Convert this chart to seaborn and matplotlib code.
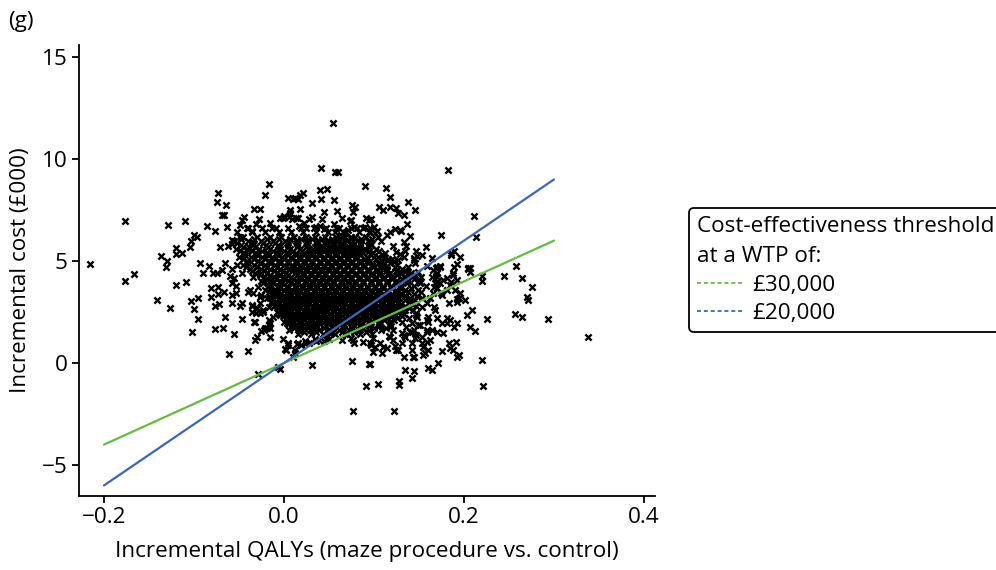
import matplotlib
matplotlib.use("Agg")
import matplotlib.pyplot as plt
from matplotlib.lines import Line2D
import pandas as pd
import seaborn as sns

# ---------------------------------------------------------------------------
# Bootstrap replicates: incremental QALYs vs incremental cost (GBP 000)
# Dense centre of the cloud, listed row by row (cost level -> QALY values)
# ---------------------------------------------------------------------------
core_rows = {
    6.6: [-0.041, -0.024, -0.009, 0.004, 0.019, 0.033, 0.047, 0.061, 0.075, 0.088],
    6.4: [-0.052, -0.035, -0.021, -0.006, 0.008, 0.021, 0.036, 0.049, 0.057, 0.069, 0.083, 0.094],
    6.2: [-0.045, -0.030, -0.016, -0.003, 0.011, 0.024, 0.035, 0.046, 0.058, 0.068, 0.079, 0.091, 0.104],
    6.1: [-0.048, -0.033, -0.019, -0.005, 0.007, 0.019, 0.031, 0.042, 0.053, 0.064, 0.075, 0.086, 0.098],
    6.0: [-0.055, -0.040, -0.026, -0.012, 0.001, 0.013, 0.026, 0.037, 0.048, 0.059, 0.070, 0.081, 0.093, 0.108],
    5.9: [-0.052, -0.037, -0.023, -0.010, 0.003, 0.015, 0.026, 0.036, 0.045, 0.055, 0.065, 0.075, 0.085, 0.096],
    5.8: [-0.048, -0.034, -0.020, -0.007, 0.005, 0.016, 0.027, 0.037, 0.047, 0.056, 0.066, 0.076, 0.086, 0.097],
    5.7: [-0.046, -0.032, -0.018, -0.006, 0.005, 0.015, 0.025, 0.034, 0.043, 0.052, 0.062, 0.072, 0.082, 0.094],
    5.6: [-0.053, -0.041, -0.028, -0.016, -0.004, 0.007, 0.018, 0.028, 0.038, 0.047, 0.057, 0.067, 0.077, 0.089, 0.102],
    5.5: [-0.049, -0.036, -0.024, -0.012, 0.000, 0.010, 0.020, 0.029, 0.037, 0.045, 0.054, 0.063, 0.073, 0.083, 0.094, 0.106],
    5.4: [-0.044, -0.031, -0.019, -0.008, 0.003, 0.013, 0.022, 0.031, 0.040, 0.049, 0.058, 0.068, 0.078, 0.088, 0.099, 0.112],
    5.3: [-0.043, -0.030, -0.018, -0.007, 0.004, 0.013, 0.022, 0.030, 0.039, 0.048, 0.057, 0.066, 0.075, 0.085, 0.097, 0.109],
    5.2: [-0.050, -0.037, -0.024, -0.013, -0.002, 0.008, 0.017, 0.026, 0.035, 0.044, 0.053, 0.062, 0.071, 0.081, 0.092, 0.104],
    5.1: [-0.046, -0.033, -0.021, -0.010, 0.000, 0.009, 0.018, 0.027, 0.036, 0.045, 0.053, 0.062, 0.071, 0.080, 0.090, 0.102, 0.116],
    5.0: [-0.041, -0.029, -0.017, -0.006, 0.004, 0.013, 0.022, 0.031, 0.040, 0.049, 0.058, 0.067, 0.076, 0.085, 0.096, 0.109, 0.122],
    4.9: [-0.040, -0.027, -0.015, -0.004, 0.005, 0.014, 0.023, 0.031, 0.040, 0.048, 0.057, 0.066, 0.075, 0.084, 0.093, 0.104, 0.118],
    4.8: [-0.046, -0.033, -0.021, -0.010, 0.000, 0.009, 0.018, 0.027, 0.036, 0.044, 0.052, 0.061, 0.070, 0.079, 0.088, 0.098, 0.110, 0.126],
    4.7: [-0.042, -0.030, -0.019, -0.008, 0.002, 0.011, 0.020, 0.029, 0.037, 0.045, 0.053, 0.062, 0.071, 0.080, 0.089, 0.099, 0.110, 0.123, 0.138],
    4.6: [-0.038, -0.026, -0.015, -0.004, 0.006, 0.015, 0.024, 0.033, 0.041, 0.049, 0.057, 0.066, 0.075, 0.084, 0.093, 0.103, 0.115, 0.131],
    4.5: [-0.035, -0.022, -0.011, -0.001, 0.009, 0.018, 0.026, 0.034, 0.042, 0.050, 0.058, 0.067, 0.076, 0.085, 0.094, 0.103, 0.113, 0.124, 0.136],
    4.4: [-0.032, -0.019, -0.008, 0.002, 0.012, 0.021, 0.030, 0.038, 0.046, 0.054, 0.062, 0.071, 0.080, 0.089, 0.098, 0.107, 0.118, 0.130, 0.141],
    4.3: [-0.027, -0.015, -0.004, 0.005, 0.014, 0.022, 0.030, 0.038, 0.046, 0.054, 0.062, 0.070, 0.079, 0.088, 0.097, 0.106, 0.116, 0.126, 0.139],
    4.2: [-0.022, -0.011, -0.001, 0.008, 0.017, 0.026, 0.034, 0.042, 0.050, 0.058, 0.066, 0.075, 0.084, 0.093, 0.102, 0.111, 0.121, 0.133, 0.152],
    4.1: [-0.020, -0.009, 0.001, 0.010, 0.019, 0.027, 0.035, 0.043, 0.051, 0.059, 0.067, 0.075, 0.083, 0.092, 0.101, 0.110, 0.120, 0.131, 0.144],
    4.0: [-0.026, -0.015, -0.004, 0.005, 0.014, 0.023, 0.031, 0.039, 0.047, 0.055, 0.063, 0.071, 0.079, 0.088, 0.097, 0.106, 0.115, 0.125, 0.138, 0.150],
    3.9: [-0.023, -0.012, -0.002, 0.008, 0.016, 0.024, 0.032, 0.040, 0.048, 0.056, 0.064, 0.072, 0.080, 0.088, 0.097, 0.105, 0.115, 0.125, 0.137, 0.151],
    3.8: [-0.018, -0.007, 0.003, 0.012, 0.020, 0.028, 0.036, 0.044, 0.052, 0.060, 0.068, 0.076, 0.084, 0.092, 0.101, 0.110, 0.119, 0.130, 0.144, 0.158],
    3.7: [-0.015, -0.004, 0.005, 0.013, 0.021, 0.029, 0.037, 0.045, 0.053, 0.061, 0.069, 0.077, 0.085, 0.093, 0.101, 0.110, 0.119, 0.129, 0.141],
    3.6: [-0.021, -0.010, 0.000, 0.009, 0.017, 0.025, 0.033, 0.041, 0.049, 0.057, 0.065, 0.073, 0.081, 0.089, 0.097, 0.105, 0.114, 0.124, 0.135, 0.149],
    3.5: [-0.017, -0.007, 0.003, 0.011, 0.018, 0.026, 0.034, 0.042, 0.050, 0.058, 0.066, 0.074, 0.082, 0.090, 0.098, 0.107, 0.116, 0.126, 0.138, 0.152],
    3.4: [-0.013, -0.003, 0.006, 0.014, 0.022, 0.030, 0.038, 0.046, 0.054, 0.062, 0.070, 0.078, 0.086, 0.094, 0.102, 0.111, 0.120, 0.131, 0.145],
    3.3: [-0.010, 0.000, 0.008, 0.016, 0.024, 0.032, 0.040, 0.048, 0.056, 0.064, 0.072, 0.080, 0.088, 0.096, 0.105, 0.114, 0.124, 0.135, 0.148],
    3.2: [-0.016, -0.006, 0.003, 0.012, 0.020, 0.028, 0.036, 0.044, 0.052, 0.060, 0.068, 0.076, 0.084, 0.092, 0.100, 0.109, 0.118, 0.128, 0.140, 0.153],
    3.1: [-0.012, -0.002, 0.007, 0.015, 0.023, 0.031, 0.039, 0.047, 0.055, 0.063, 0.071, 0.079, 0.087, 0.095, 0.104, 0.113, 0.123, 0.134, 0.146],
    3.0: [-0.009, 0.001, 0.010, 0.018, 0.026, 0.034, 0.042, 0.050, 0.058, 0.066, 0.074, 0.082, 0.090, 0.099, 0.108, 0.117, 0.127, 0.139],
    2.9: [-0.006, 0.004, 0.012, 0.020, 0.028, 0.036, 0.044, 0.052, 0.060, 0.068, 0.076, 0.084, 0.092, 0.101, 0.110, 0.120, 0.130, 0.142],
    2.8: [-0.011, -0.001, 0.008, 0.016, 0.024, 0.032, 0.040, 0.048, 0.056, 0.064, 0.072, 0.080, 0.088, 0.096, 0.105, 0.114, 0.124, 0.135, 0.147],
    2.7: [-0.007, 0.002, 0.010, 0.018, 0.026, 0.034, 0.042, 0.050, 0.058, 0.066, 0.074, 0.083, 0.091, 0.100, 0.109, 0.118, 0.129, 0.139],
    2.6: [-0.003, 0.006, 0.014, 0.022, 0.030, 0.038, 0.046, 0.054, 0.062, 0.070, 0.078, 0.087, 0.095, 0.104, 0.113, 0.123, 0.134, 0.143],
    2.5: [0.000, 0.008, 0.016, 0.024, 0.032, 0.040, 0.048, 0.056, 0.064, 0.072, 0.081, 0.089, 0.098, 0.108, 0.117, 0.128],
    2.4: [-0.005, 0.004, 0.012, 0.020, 0.028, 0.036, 0.044, 0.052, 0.060, 0.068, 0.077, 0.085, 0.094, 0.103, 0.112, 0.122, 0.133],
    2.3: [-0.001, 0.007, 0.015, 0.023, 0.031, 0.040, 0.048, 0.056, 0.064, 0.072, 0.081, 0.090, 0.099, 0.109, 0.120, 0.131],
    2.2: [0.002, 0.010, 0.018, 0.026, 0.035, 0.043, 0.051, 0.059, 0.068, 0.076, 0.085, 0.094, 0.104, 0.115, 0.126, 0.139],
    2.1: [0.005, 0.013, 0.022, 0.030, 0.039, 0.047, 0.056, 0.064, 0.073, 0.082, 0.091, 0.101, 0.111, 0.122],
    2.0: [0.000, 0.009, 0.017, 0.026, 0.034, 0.043, 0.052, 0.061, 0.069, 0.078, 0.087, 0.097, 0.107, 0.118, 0.131],
    1.9: [0.004, 0.013, 0.022, 0.031, 0.040, 0.049, 0.058, 0.067, 0.076, 0.086, 0.096, 0.107, 0.118],
    1.8: [0.008, 0.018, 0.028, 0.037, 0.047, 0.056, 0.066, 0.075, 0.085, 0.095, 0.106, 0.119],
    1.7: [0.011, 0.022, 0.033, 0.044, 0.055, 0.066, 0.077, 0.088, 0.100, 0.113],
    1.6: [0.006, 0.017, 0.029, 0.039, 0.050, 0.061, 0.072, 0.083, 0.094, 0.108, 0.121],
    1.5: [0.022, 0.036, 0.050, 0.064, 0.078, 0.091],
    1.4: [0.016, 0.030, 0.043, 0.057, 0.070, 0.084, 0.098],
}

# Scattered replicates around the centre: (incremental QALY, incremental cost)
outer_points = [
    (-0.216, 4.85), (-0.177, 6.96), (-0.177, 4.00), (-0.167, 4.35), (-0.141, 3.07), (-0.129, 6.75),
    (-0.127, 2.68), (-0.137, 5.23), (-0.130, 4.98), (-0.131, 4.69), (-0.120, 5.65), (-0.120, 5.34),
    (-0.113, 5.41), (-0.120, 3.82), (-0.109, 3.99), (-0.110, 6.96), (-0.103, 6.00), (-0.104, 5.70),
    (-0.100, 6.29), (-0.097, 6.18), (-0.103, 3.04), (-0.096, 3.17), (-0.100, 2.63), (-0.096, 2.14),
    (-0.102, 1.53), (-0.093, 4.89), (-0.083, 4.75), (-0.090, 4.40), (-0.079, 4.40), (-0.074, 4.43),
    (-0.069, 4.56), (-0.065, 4.92), (-0.086, 6.73), (-0.077, 6.49), (-0.073, 8.33), (-0.074, 7.89),
    (-0.064, 7.73), (-0.069, 7.25), (-0.067, 7.25), (-0.063, 6.68), (-0.071, 5.70), (-0.062, 5.74),
    (-0.058, 5.82), (-0.058, 6.03), (-0.049, 6.19), (-0.049, 6.76), (-0.047, 7.01), (-0.044, 7.14),
    (-0.033, 7.56), (-0.027, 7.56), (-0.021, 8.24), (-0.017, 8.76), (-0.040, 6.63), (-0.036, 6.47),
    (-0.034, 5.87), (-0.039, 5.70), (-0.028, 7.04), (-0.031, 6.81), (-0.016, 6.88), (-0.013, 6.60),
    (-0.004, 7.09), (-0.001, 7.12), (0.007, 7.50), (0.006, 7.17), (0.009, 7.04), (0.005, 8.10),
    (0.010, 8.05), (0.016, 8.05), (0.021, 8.35), (0.018, 8.24),
    (-0.081, 3.66), (-0.081, 3.22), (-0.073, 3.71), (-0.067, 3.50), (-0.073, 3.38), (-0.077, 2.79),
    (-0.072, 2.88), (-0.066, 2.24), (-0.047, 2.16), (-0.077, 1.67), (-0.068, 1.72), (-0.056, 1.42),
    (-0.058, 2.96), (-0.049, 2.81), (-0.061, 0.46), (-0.040, 0.60), (-0.029, -0.56), (-0.007, -0.18),
    (-0.004, -0.29), (-0.032, 1.13), (-0.030, 1.29), (-0.025, 1.57), (-0.021, 1.70), (-0.016, 1.29),
    (-0.017, 1.86), (-0.001, 1.16), (0.002, 0.64), (0.010, 0.31), (0.012, 0.64), (0.005, 0.97),
    (0.016, 0.97), (-0.047, 2.92), (-0.036, 2.81), (-0.031, 2.43), (-0.032, 2.03), (-0.058, 3.90),
    (-0.053, 3.77), (-0.053, 3.42), (-0.058, 3.33), (-0.038, 3.58), (-0.029, 3.74), (-0.034, 3.42),
    (-0.027, 3.25), (-0.023, 2.60), (-0.017, 2.11), (-0.016, 1.70), (-0.012, 2.27), (-0.008, 2.51),
    (-0.004, 2.35), (0.003, 1.95), (-0.060, 4.26), (-0.056, 4.15), (-0.040, 3.50), (-0.025, 3.33),
    (-0.019, 3.17), (-0.014, 3.58), (-0.008, 3.33), (-0.003, 3.09), (-0.034, 4.23), (-0.025, 4.39),
    (-0.019, 4.07), (-0.014, 4.15), (-0.006, 4.31), (-0.035, 2.51), (-0.030, 2.68), (-0.027, 2.43),
    (-0.023, 2.51), (-0.036, 2.84), (-0.027, 2.92), (-0.017, 2.76), (-0.014, 3.00), (-0.009, 2.84),
    (-0.033, 2.00), (-0.016, 1.95), (-0.019, 1.70), (-0.022, 1.62), (-0.058, 4.60), (-0.052, 4.80),
    (-0.047, 4.40), (0.031, -0.10), (0.015, 0.95), (0.019, 0.90), (0.024, 1.00), (0.028, 1.00),
    (0.036, 1.10), (0.039, 1.15), (0.045, 1.10), (0.047, 1.20), (0.001, 0.67), (0.005, 0.88),
    (0.012, 0.48), (0.023, 1.10), (0.034, 1.20), (0.050, 1.20), (0.052, 1.45),
    (0.054, 11.78), (0.041, 9.56), (0.057, 9.38), (0.060, 9.38), (0.182, 9.48), (0.090, 8.68),
    (0.113, 8.59), (0.118, 8.14), (0.012, 8.07), (0.040, 8.48), (0.048, 8.53), (0.041, 8.02),
    (0.031, 7.83), (0.056, 7.97), (0.138, 7.88), (0.146, 7.50), (0.118, 7.63), (0.124, 7.61),
    (0.127, 7.35), (0.133, 7.24), (0.106, 7.66), (0.110, 7.50), (0.076, 7.75), (0.079, 7.63),
    (0.077, 7.39), (0.007, 7.34), (0.018, 7.55), (0.045, 7.39), (0.059, 7.44), (0.064, 7.12),
    (0.000, 7.20), (0.013, 7.10), (0.016, 7.12), (0.031, 7.17), (0.028, 7.04), (0.042, 7.06),
    (0.074, 7.01), (0.091, 7.09), (0.097, 7.06), (0.094, 7.01), (0.017, 6.72), (0.022, 6.88),
    (0.025, 6.60), (0.036, 6.68), (0.040, 6.72), (0.045, 6.55), (0.056, 6.80), (0.058, 6.60),
    (0.063, 6.30), (0.066, 6.40), (0.071, 6.50), (0.078, 6.65), (0.074, 6.20), (0.090, 6.68),
    (0.096, 6.60), (0.100, 6.68), (0.103, 6.49), (0.101, 6.36), (0.096, 6.44), (0.114, 6.27),
    (0.118, 6.44), (0.123, 6.55), (0.129, 6.52), (0.137, 6.81), (0.140, 6.24), (0.133, 5.95),
    (0.136, 5.75), (0.134, 5.50), (0.121, 5.75), (0.125, 5.46), (0.129, 5.33), (0.133, 5.21),
    (0.158, 5.69), (0.153, 5.29), (0.148, 5.25), (0.146, 4.89), (0.144, 5.05), (0.164, 5.13),
    (0.169, 4.64), (0.173, 4.77), (0.170, 4.40), (0.174, 6.29), (0.186, 5.41), (0.189, 5.50),
    (0.186, 5.28), (0.196, 5.18), (0.192, 4.85), (0.189, 4.72), (0.204, 4.61), (0.211, 7.20),
    (0.213, 6.19), (0.220, 4.28), (0.159, 4.77), (0.166, 4.56), (0.164, 4.23), (0.188, 4.31),
    (0.146, 4.31), (0.149, 4.48), (0.073, 6.98), (0.081, 6.63), (0.130, 6.49), (0.147, 5.50),
    (0.144, 5.13), (0.127, 5.05), (0.110, 5.13), (0.116, 5.05), (0.120, 5.10), (0.114, 4.75),
    (0.107, 4.89), (0.170, 4.69), (0.205, 4.67),
    (0.207, 4.64), (0.220, 4.03), (0.244, 4.26), (0.258, 4.74), (0.264, 4.15), (0.276, 3.74),
    (0.270, 3.25), (0.271, 3.09), (0.226, 2.14), (0.207, 1.78), (0.212, 1.58), (0.257, 2.40),
    (0.264, 2.27), (0.293, 2.14), (0.338, 1.26), (0.220, 0.16), (0.221, -1.13), (0.188, 4.39),
    (0.186, 3.99), (0.192, 4.07), (0.173, 4.72), (0.169, 4.26), (0.170, 3.99), (0.167, 3.74),
    (0.181, 3.58), (0.176, 3.33), (0.196, 3.45), (0.192, 3.12), (0.183, 2.93), (0.192, 3.00),
    (0.167, 2.76), (0.168, 2.60), (0.181, 2.19), (0.184, 2.11), (0.176, 1.98), (0.170, 1.53),
    (0.189, 1.78), (0.191, 1.04), (0.184, 0.72), (0.188, 0.64), (0.192, 0.31), (0.176, 0.60),
    (0.171, -0.02), (0.160, -0.26), (0.159, 2.11), (0.159, 1.62), (0.162, 1.13), (0.155, 0.80),
    (0.157, 0.48), (0.153, 1.29), (0.147, 2.35), (0.149, 1.86), (0.144, 1.62), (0.146, 1.21),
    (0.142, 0.97), (0.143, 0.28), (0.144, -0.38), (0.142, -0.75), (0.134, -0.34), (0.128, -0.87),
    (0.128, -1.08), (0.133, 0.31), (0.125, 0.64), (0.105, -1.04), (0.091, -1.13), (0.077, -2.34),
    (0.122, -2.34), (0.095, -0.06), (0.076, 0.11), (0.110, 0.77), (0.123, 0.83), (0.127, 0.64),
    (0.118, 1.29), (0.107, 0.99), (0.121, 1.12), (0.133, 1.37), (0.140, 1.53), (0.136, 1.78),
    (0.099, 1.21), (0.097, 0.88), (0.088, 1.04), (0.078, 0.99), (0.075, 1.21), (0.068, 1.42),
    (0.065, 1.13), (0.170, 4.23), (0.207, 4.48), (0.184, 3.82), (0.168, 3.90), (0.175, 3.42),
    (0.190, 3.58), (0.194, 3.17), (0.201, 3.09), (0.209, 2.60), (0.203, 2.35), (0.160, 2.27),
    (0.170, 2.19), (0.160, 2.03), (0.164, 1.62), (0.159, 1.53), (0.177, 1.45), (0.181, 1.95),
    (0.192, 1.95), (0.194, 0.39), (0.183, 0.97), (0.159, 1.04), (0.153, 0.97), (0.160, 0.64),
    (0.155, 0.39), (0.144, 0.31), (0.142, 0.64), (0.131, 0.97), (0.114, 0.72), (0.109, 0.48),
    (0.099, 0.55), (0.101, 0.80), (0.096, 0.97), (0.077, 1.13), (0.096, -0.06), (0.117, 1.31),
    (0.131, 1.45), (0.142, 1.53), (0.134, 1.29), (0.147, 1.37), (0.142, 1.95), (0.148, 2.27),
    (0.151, 1.86), (0.164, -0.34), (0.147, 2.43), (0.153, 2.76), (0.159, 2.92), (0.162, 3.17),
    (0.166, 3.42), (0.170, 3.66), (0.173, 3.90), (0.177, 4.07), (0.181, 4.15),
]

# Willingness-to-pay threshold lines (end points, QALY and cost in GBP 000)
line_qaly = [-0.2, 0.3]
line_cost_30k = [-4.0, 6.0]
line_cost_20k = [-6.0, 9.0]
threshold_labels = ["£30,000", "£20,000"]
threshold_colors = ["#66bb46", "#3b67b6"]

x_ticks = [-0.2, 0.0, 0.2, 0.4]
y_ticks = [-5, 0, 5, 10, 15]

# ---------------------------------------------------------------------------
qaly_vals, cost_vals = [], []
for cost, qalys in core_rows.items():
    qaly_vals += qalys
    cost_vals += [cost] * len(qalys)
for q, c in outer_points:
    qaly_vals.append(q)
    cost_vals.append(c)
reps = pd.DataFrame({"qaly": qaly_vals, "cost": cost_vals})

lines = pd.DataFrame({
    "qaly": line_qaly * 2,
    "cost": line_cost_30k + line_cost_20k,
    "wtp": [threshold_labels[0]] * 2 + [threshold_labels[1]] * 2,
})

sns.set_style("ticks")
plt.rcParams["font.family"] = ["Open Sans", "DejaVu Sans"]
plt.rcParams.update({
    "axes.linewidth": 1.3,
    "text.color": "black",
    "axes.labelcolor": "black",
    "xtick.color": "black",
    "ytick.color": "black",
    "axes.edgecolor": "black",
})
FS = 16.2

fig = plt.figure(figsize=(9.96, 5.70), dpi=100)
ax = fig.add_axes([0.0793, 0.1298, 0.5783, 0.7912])

sns.scatterplot(data=reps, x="qaly", y="cost", ax=ax, marker="x", s=20,
                color="black", linewidth=1.7, zorder=2, legend=False)
sns.lineplot(data=lines, x="qaly", y="cost", hue="wtp",
             palette=dict(zip(threshold_labels, threshold_colors)),
             hue_order=threshold_labels, linewidth=1.6, ax=ax, legend=False,
             zorder=3, estimator=None, sort=False)

ax.set_xlim(-0.2278, 0.4122)
ax.set_ylim(-6.52, 15.59)
ax.set_xticks(x_ticks)
ax.set_yticks(y_ticks)
ax.set_xticklabels([f"{t:.1f}".replace("-", "\u2212") for t in x_ticks])
ax.set_yticklabels([f"{t}".replace("-", "\u2212") for t in y_ticks])
ax.tick_params(direction="out", length=5, width=1.3, labelsize=FS, pad=3,
               colors="black")
sns.despine(ax=ax)

ax.set_xlabel("Incremental QALYs (maze procedure vs. control)", fontsize=FS, labelpad=9)
ax.set_ylabel("Incremental cost (£000)", fontsize=FS, labelpad=8)

fig.text(0.008, 0.962, "(g)", fontsize=FS, ha="left", va="center")

handles = [Line2D([], [], color=c, lw=1.3, linestyle=(0, (2.2, 1.6)))
           for c in threshold_colors]
leg = fig.legend(handles, threshold_labels,
                 title="Cost-effectiveness threshold\nat a WTP of:",
                 loc="upper left", bbox_to_anchor=(689 / 996, 1 - 208 / 570),
                 fontsize=FS, title_fontsize=FS, frameon=True, fancybox=True,
                 alignment="left", handlelength=2.0, handletextpad=0.45,
                 borderpad=0.35, labelspacing=0.32, borderaxespad=0)
leg.get_title().set_linespacing(1.6)
leg.get_title().set_color("black")
for t in leg.get_texts():
    t.set_color("black")
frame = leg.get_frame()
frame.set_edgecolor("black")
frame.set_linewidth(1.3)
frame.set_alpha(1)

fig.savefig("out.png", dpi=100)
